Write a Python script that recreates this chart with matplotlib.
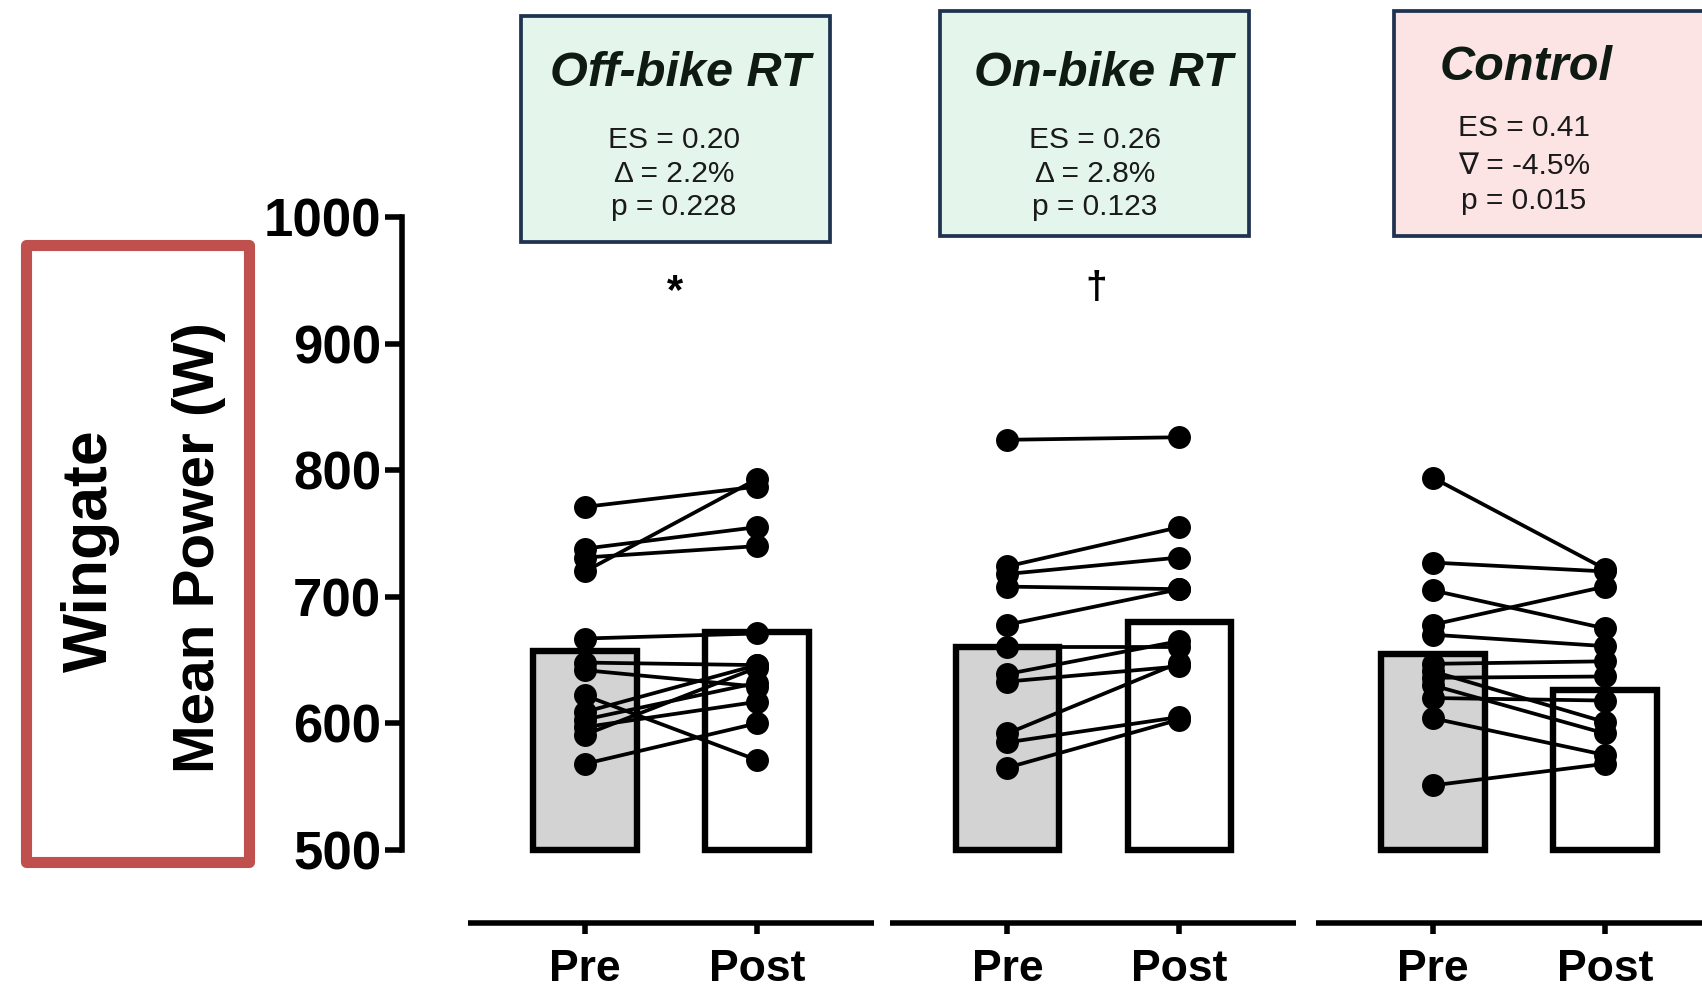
import numpy as np
import matplotlib.pyplot as plt
from matplotlib.patches import Rectangle

plt.rcParams['font.family'] = ['Liberation Sans', 'DejaVu Sans']

# individual subjects, pre -> post (W)
off_pre = [771, 738, 731, 720, 667, 648, 642, 622, 609, 603, 597, 591, 568]
off_post = [787, 755, 740, 793, 671, 646, 629, 571, 646, 632, 617, 644, 600]
on_pre = [824, 724, 718, 708, 678, 660, 639, 633, 592, 585, 565]
on_post = [826, 755, 731, 706, 706, 660, 665, 645, 648, 605, 603]
ctl_pre = [794, 727, 705, 678, 670, 647, 641, 636, 630, 620, 604, 551]
ctl_post = [722, 720, 675, 708, 661, 649, 601, 637, 592, 618, 575, 568]

# group means (bars)
pre_means = [657, 660, 655]
post_means = [672, 680, 626]

groups = ['Off-bike RT', 'On-bike RT', 'Control']
stats = [['ES = 0.20', 'Δ = 2.2%', 'p = 0.228'],
         ['ES = 0.26', 'Δ = 2.8%', 'p = 0.123'],
         ['ES = 0.41', '∇ = -4.5%', 'p = 0.015']]
marks = ['*', '†', '']
tick_labels = ['Pre', 'Post']

W, H = 1702, 988
fig = plt.figure(figsize=(W / 100, H / 100), dpi=100)
ax = fig.add_axes([401.6 / W, 1 - 922.7 / H, (W - 401.6) / W, (922.7 - 217) / H])

def fp(x, y):
    # pixel position (from top-left) -> figure fraction
    return x / W, 1 - y / H

pre_x = np.array([0, 2.456, 4.93])
post_x = pre_x + 1

ax.bar(pre_x, np.array(pre_means) - 500, bottom=500, width=0.6,
       color='#D3D3D3', edgecolor='black', linewidth=4.6, zorder=1)
ax.bar(post_x, np.array(post_means) - 500, bottom=500, width=0.6,
       color='white', edgecolor='black', linewidth=4.6, zorder=1)

for xp, xq, pre, post in zip(pre_x, post_x, [off_pre, on_pre, ctl_pre], [off_post, on_post, ctl_post]):
    for a, b in zip(pre, post):
        ax.plot([xp, xq], [a, b], color='black', lw=2.7, zorder=2)
    ax.plot([xp] * len(pre), pre, 'o', color='black', ms=15.5, zorder=3)
    ax.plot([xq] * len(post), post, 'o', color='black', ms=15.5, zorder=3)

ax.set_xlim(-1.066, 6.494)
ax.set_ylim(442.5, 1000)

for s in ['top', 'right', 'bottom']:
    ax.spines[s].set_visible(False)
ax.spines['left'].set_bounds(500, 1000)
ax.spines['left'].set_linewidth(4)
ax.set_yticks(np.arange(500, 1001, 100))
ax.tick_params(axis='y', length=12, width=4, pad=2.6, labelsize=38)
for lab in ax.get_yticklabels():
    lab.set_fontweight('bold')

xt = np.sort(np.concatenate([pre_x, post_x]))
ax.set_xticks(xt)
ax.set_xticklabels(tick_labels * 3, fontsize=32, fontweight='bold')
ax.tick_params(axis='x', length=8, width=4, pad=11)

# broken x axis, one segment per group
for c in (pre_x + post_x) / 2:
    ax.plot([c - 1.18, c + 1.18], [442.5, 442.5], color='black', lw=4,
            solid_capstyle='butt', clip_on=False)

# group boxes
boxes = [(521, 16, 830, 242, '#E4F5EC'),
         (940, 11, 1249, 236, '#E4F5EC'),
         (1394, 11, 1710, 236, '#FDE4E4')]
title_pos = [(680, 74), (1103, 74), (1526, 67)]
stat_pos = [(674, [140, 174, 207]), (1095, [140, 174, 207]), (1524, [128, 166, 201])]
for (x0, y0, x1, y1, fc), name, (tx, ty), (sx, sys_), st in zip(boxes, groups, title_pos, stat_pos, stats):
    fig.patches.append(Rectangle(fp(x0, y1), (x1 - x0) / W, (y1 - y0) / H,
                                 transform=fig.transFigure, facecolor=fc,
                                 edgecolor='#1F3350', linewidth=2.7))
    fig.text(*fp(tx, ty), name, ha='center', va='center', fontsize=35,
             fontweight='bold', fontstyle='italic', color='#0E1A12')
    for line, yy in zip(st, sys_):
        fig.text(*fp(sx, yy), line, ha='center', va='center', fontsize=21.5, color='#1A1A1A')

# significance marks
fig.text(*fp(675, 292), marks[0], ha='center', va='center', fontsize=30, fontweight='bold')
fig.text(*fp(1096, 288), marks[1], ha='center', va='center', fontsize=28, fontweight='bold')

# y-axis title in a red frame
fig.patches.append(Rectangle(fp(26, 862), (249 - 26) / W, (862 - 245) / H,
                             transform=fig.transFigure, facecolor='none',
                             edgecolor='#C0504D', linewidth=8, joinstyle='round'))
fig.text(*fp(90, 551), 'Wingate', rotation=90, ha='center', va='center',
         fontsize=45, fontweight='bold')
fig.text(*fp(199, 548), 'Mean Power (W)', rotation=90, ha='center', va='center',
         fontsize=42, fontweight='bold')

fig.savefig('out.png', dpi=100)
